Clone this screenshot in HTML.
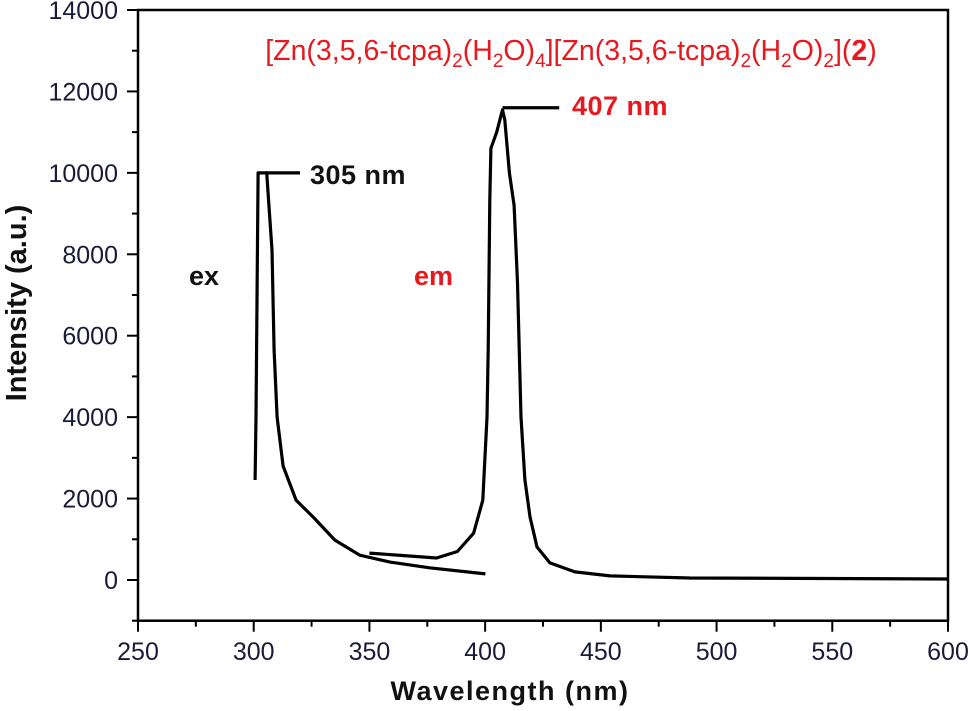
<!DOCTYPE html>
<html><head><meta charset="utf-8"><style>
body{margin:0;background:#fff;}
svg text{font-family:"Liberation Sans",Arial,sans-serif;}
</style></head><body>
<svg id="chart" width="969" height="706" xmlns="http://www.w3.org/2000/svg">
<g id="axes"></g>
<g id="series"></g>
<text x="571" y="60" text-anchor="middle" font-size="28.5" fill="#e8191e">[Zn(3,5,6-tcpa)<tspan font-size="19" dy="7">2</tspan><tspan dy="-7">(H</tspan><tspan font-size="19" dy="7">2</tspan><tspan dy="-7">O)</tspan><tspan font-size="19" dy="7">4</tspan><tspan dy="-7">][Zn(3,5,6-tcpa)</tspan><tspan font-size="19" dy="7">2</tspan><tspan dy="-7">(H</tspan><tspan font-size="19" dy="7">2</tspan><tspan dy="-7">O)</tspan><tspan font-size="19" dy="7">2</tspan><tspan dy="-7">](</tspan><tspan font-weight="bold">2</tspan>)</text>
<text x="189" y="285" font-size="27" font-weight="bold" fill="#111">ex</text>
<text x="414" y="285" font-size="27" font-weight="bold" fill="#e8191e">em</text>
<text x="310" y="184" font-size="27" font-weight="bold" letter-spacing="0.5" fill="#111">305 nm</text>
<text x="572" y="115" font-size="27" font-weight="bold" letter-spacing="0.5" fill="#e8191e">407 nm</text>
<text x="510" y="700" text-anchor="middle" font-size="27" font-weight="bold" letter-spacing="1.5" fill="#111">Wavelength (nm)</text>
<text transform="translate(26,303) rotate(-90)" text-anchor="middle" font-size="29" font-weight="bold" fill="#111">Intensity (a.u.)</text>
</svg>
<script>
const xTicks=[250,300,350,400,450,500,550,600];
const yTicks=[0,2000,4000,6000,8000,10000,12000,14000];
const exWl=[300.6,301,301.9,303,305.6,307.9,308.8,310.1,312.7,318.3,325.6,335.1,345.9,358.9,376,400.1];
const exVal=[2456,4000,10000,10000,10000,8100,5650,4000,2800,1960,1550,980,610,440,300,150];
const emWl=[350,365,379,388,395,399,400.8,401.3,402,402.5,405,407.5,408.5,410.5,412.5,414,415.5,417.2,419.4,422.4,428,438.8,454,488.5,600];
const emVal=[660,600,540,700,1150,1960,4000,5650,9330,10600,11000,11550,11300,10000,9200,7300,4000,2460,1550,810,420,200,100,50,25];
const exPeak=[305,320,10000];
const emPeak=[407.5,432,11600];
const X=v=>138+(v-250)*(810/350);
const Y=v=>580-v*(570/14000);
const ns="http://www.w3.org/2000/svg";
function mk(tag,attrs,parent,txt){const e=document.createElementNS(ns,tag);for(const k in attrs)e.setAttribute(k,attrs[k]);if(txt!==undefined)e.textContent=txt;parent.appendChild(e);return e;}
const ax=document.getElementById('axes'),se=document.getElementById('series');
const frame=mk('rect',{x:X(250),y:Y(14000),width:X(600)-X(250),height:Y(-1000)-Y(14000),fill:'none',stroke:'#000','stroke-width':2.5},ax);


for(let v=250;v<=600;v+=25){const major=v%50===0;
 const t=mk('line',{x1:X(v),x2:X(v),y1:Y(-1000),y2:Y(-1000)+(major?11:6),stroke:'#000','stroke-width':2},ax);
 
 }
xTicks.forEach(v=>{const t=mk('text',{x:X(v),y:660,'text-anchor':'middle','font-size':25,fill:'#1a1a3a'},ax,String(v));
 
 });
for(let v=-1000;v<=14000;v+=1000){const major=v%2000===0;
 const t=mk('line',{x1:X(250),x2:X(250)-(major?11:6),y1:Y(v),y2:Y(v),stroke:'#000','stroke-width':2},ax);
 
 }
yTicks.forEach(v=>{const t=mk('text',{x:118,y:Y(v)+9,'text-anchor':'end','font-size':25,fill:'#1a1a3a'},ax,String(v));
 
 });
function path(wl,val){return wl.map((w,i)=>(i?'L':'M')+X(w).toFixed(1)+','+Y(val[i]).toFixed(1)).join(' ');}
const ex=mk('path',{d:path(exWl,exVal),fill:'none',stroke:'#000','stroke-width':3.2,'stroke-linejoin':'round'},se);


const em=mk('path',{d:path(emWl,emVal),fill:'none',stroke:'#000','stroke-width':3.2,'stroke-linejoin':'round'},se);


const l1=mk('line',{x1:X(exPeak[0]),x2:X(exPeak[1]),y1:Y(exPeak[2]),y2:Y(exPeak[2]),stroke:'#000','stroke-width':3.2},se);


const l2=mk('line',{x1:X(emPeak[0]),x2:X(emPeak[1]),y1:Y(emPeak[2]),y2:Y(emPeak[2]),stroke:'#000','stroke-width':3.2},se);


</script>
</body></html>
